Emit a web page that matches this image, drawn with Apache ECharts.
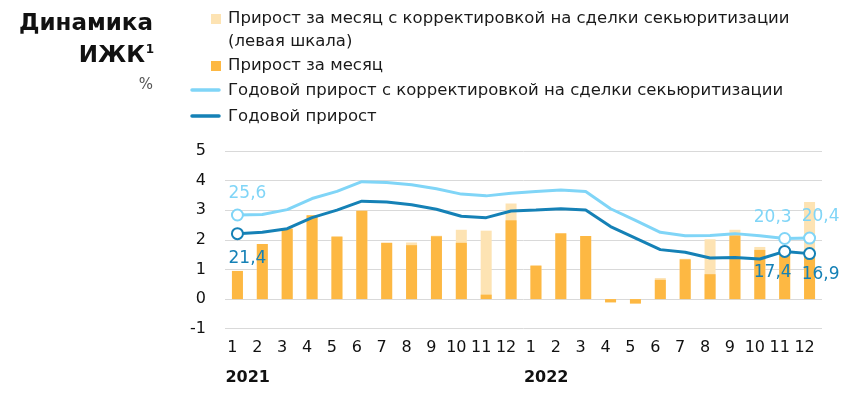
<!DOCTYPE html>
<html><head><meta charset="utf-8">
<script src="https://cdn.jsdelivr.net/npm/echarts@6/dist/echarts.min.js"></script>
<style>html,body{margin:0;padding:0;background:#fff}#c{width:860px;height:394px}</style>
</head><body><div id="c"></div>
<script>
const months = ['1','2','3','4','5','6','7','8','9','10','11','12','1','2','3','4','5','6','7','8','9','10','11','12'];
const years = ['2021', '2022'];
const yearStartIndex = [0, 12];
// Monthly growth, % (left scale)
const monthlyGrowth = [0.95,1.86,2.38,2.83,2.11,2.98,1.90,1.82,2.12,1.90,0.15,2.66, 1.13,2.22,2.13,-0.11,-0.15,0.65,1.34,0.84,2.15,1.66,1.65,1.55];
// Monthly growth adjusted for securitization deals, % (left scale)
const adjustedMonthlyGrowth = [0.95,1.86,2.38,2.83,2.11,2.98,1.90,1.91,2.14,2.34,2.31,3.23, 1.13,2.22,2.13,-0.11,-0.15,0.71,1.36,2.02,2.34,1.76,1.70,3.28];
// Annual growth, % (hidden right scale)
const annualGrowth = [21.4,21.7,22.5,25.0,26.7,28.7,28.5,27.9,26.9,25.3,25.0,26.5, 26.7,27.0,26.7,23.0,20.4,17.8,17.2,15.9,16.0,15.7,17.4,16.9];
// Annual growth adjusted for securitization deals, %
const adjustedAnnualGrowth = [25.6,25.7,26.8,29.3,30.9,33.1,32.9,32.4,31.5,30.3,29.9,30.5, 30.9,31.2,30.9,27.0,24.4,21.7,20.9,21.0,21.4,20.9,20.3,20.4];

const legendNames = [
  'Прирост за месяц с корректировкой на сделки секьюритизации\n(левая шкала)',
  'Прирост за месяц',
  'Годовой прирост с корректировкой на сделки секьюритизации',
  'Годовой прирост'
];
const C_LIGHT_BAR = '#fde3b3', C_BAR = '#fdb843', C_LIGHT_LINE = '#80d5f7', C_LINE = '#1581b6';
const FONT = 'DejaVu Sans';
const fmt = v => v.toFixed(1).replace('.', ',');

function lineData(arr, color, labelCfg) {
  return arr.map((v, i) => {
    const cfg = labelCfg[i];
    if (!cfg) return { value: v };
    return {
      value: v,
      symbol: 'emptyCircle',
      symbolSize: 11,
      itemStyle: { color: color, borderWidth: 2.6 },
      label: {
        show: true, position: cfg.pos, distance: cfg.dist, offset: [cfg.dx, 0],
        formatter: fmt(v), color: color, fontSize: 17, fontFamily: FONT
      }
    };
  });
}
const last = months.length - 1;
const lightLabels = {0: {pos: 'top', dist: 6, dx: 10}, [last - 1]: {pos: 'top', dist: 6, dx: -12}, [last]: {pos: 'top', dist: 6, dx: 11}};
const darkLabels = {0: {pos: 'bottom', dist: 10, dx: 10}, [last - 1]: {pos: 'bottom', dist: 6, dx: -12}, [last]: {pos: 'bottom', dist: 6, dx: 11}};

const chart = echarts.init(document.getElementById('c'), null, {renderer: 'canvas'});
const LF = '16.5px "' + FONT + '"';
const legendGraphics = [
  {type: 'rect', shape: {x: 211, y: 14, width: 10, height: 10}, style: {fill: C_LIGHT_BAR}},
  {type: 'text', style: {x: 228, y: 7.5, text: legendNames[0], font: LF, fill: '#1a1a1a', textVerticalAlign: 'top', lineHeight: 23}},
  {type: 'rect', shape: {x: 211, y: 61, width: 10, height: 10}, style: {fill: C_BAR}},
  {type: 'text', style: {x: 228, y: 66, text: legendNames[1], font: LF, fill: '#1a1a1a', textVerticalAlign: 'middle'}},
  {type: 'line', shape: {x1: 192, y1: 90, x2: 219, y2: 90}, style: {stroke: C_LIGHT_LINE, lineWidth: 3.5, lineCap: 'round'}},
  {type: 'text', style: {x: 228, y: 91, text: legendNames[2], font: LF, fill: '#1a1a1a', textVerticalAlign: 'middle'}},
  {type: 'line', shape: {x1: 192, y1: 116, x2: 219, y2: 116}, style: {stroke: C_LINE, lineWidth: 3.5, lineCap: 'round'}},
  {type: 'text', style: {x: 228, y: 117, text: legendNames[3], font: LF, fill: '#1a1a1a', textVerticalAlign: 'middle'}},
  {type: 'text', style: {x: 153, y: 24, text: 'Динамика', font: 'bold 23px "' + FONT + '"', fill: '#111', textAlign: 'right', textVerticalAlign: 'middle'}},
  {type: 'text', style: {x: 145, y: 56, text: 'ИЖК', font: 'bold 23px "' + FONT + '"', fill: '#111', textAlign: 'right', textVerticalAlign: 'middle'}},
  {type: 'text', style: {x: 154, y: 50, text: '1', font: 'bold 12px "' + FONT + '"', fill: '#111', textAlign: 'right', textVerticalAlign: 'middle'}},
  {type: 'text', style: {x: 153, y: 85, text: '%', font: '15px "' + FONT + '"', fill: '#555', textAlign: 'right', textVerticalAlign: 'middle'}}
];

chart.setOption({
  animation: false,
  grid: {left: 225, right: 38, top: 151, bottom: 65.3},
  xAxis: [{
    type: 'category', data: months, boundaryGap: true,
    axisLine: {show: false}, axisTick: {show: false},
    axisLabel: {interval: 0, margin: 11, fontSize: 16, fontFamily: FONT, color: '#111', padding: [0, 10, 0, 0]}
  }],
  yAxis: [{
    type: 'value', min: -1, max: 5, interval: 1,
    axisLabel: {margin: 19, fontSize: 16, fontFamily: FONT, color: '#111'},
    splitLine: {lineStyle: {color: '#d9d9d9', width: 1}},
    axisLine: {show: false}, axisTick: {show: false}
  }, {
    type: 'value', min: 0, max: 40, show: false, splitLine: {show: false}
  }],
  series: [
    {name: legendNames[0], type: 'bar', data: adjustedMonthlyGrowth, barWidth: 11, itemStyle: {color: C_LIGHT_BAR}, z: 1},
    {name: legendNames[1], type: 'bar', data: monthlyGrowth, barWidth: 11, barGap: '-100%', itemStyle: {color: C_BAR}, z: 2},
    {name: legendNames[2], type: 'line', yAxisIndex: 1, data: lineData(adjustedAnnualGrowth, C_LIGHT_LINE, lightLabels),
     symbol: 'none', showSymbol: true, showAllSymbol: true, lineStyle: {color: C_LIGHT_LINE, width: 3}, itemStyle: {color: C_LIGHT_LINE}, z: 3},
    {name: legendNames[3], type: 'line', yAxisIndex: 1, data: lineData(annualGrowth, C_LINE, darkLabels),
     symbol: 'none', showSymbol: true, showAllSymbol: true, lineStyle: {color: C_LINE, width: 3}, itemStyle: {color: C_LINE}, z: 4}
  ],
  graphic: legendGraphics
});

const yearGraphics = years.map((y, k) => {
  const x = chart.convertToPixel({xAxisIndex: 0}, yearStartIndex[k]) - 12;
  return {type: 'text', style: {x: x, y: 378, text: y, font: 'bold 16px "' + FONT + '"', fill: '#111', textVerticalAlign: 'middle'}};
});
chart.setOption({graphic: legendGraphics.concat(yearGraphics)});
</script></body></html>
